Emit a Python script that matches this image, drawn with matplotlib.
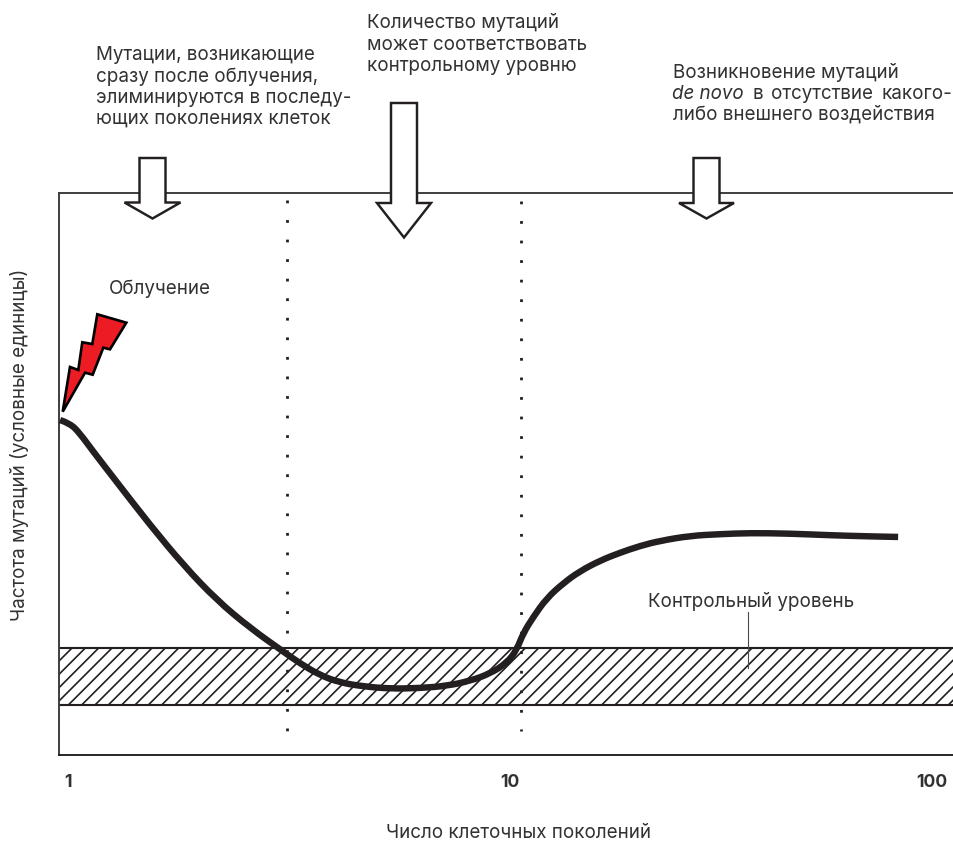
#!/usr/bin/env python3

"""
Mutation frequency vs number of cell generations after irradiation.
X axis is log10 of the generation number, y axis in arbitrary units.
"""

import matplotlib
matplotlib.use('Agg')
import matplotlib.pyplot as plt
from matplotlib.patches import Polygon, PathPatch
from matplotlib.path import Path
from matplotlib.transforms import Affine2D, ScaledTranslation

WIDTH = 953
HEIGHT = 841
DPI = 80  # hatch tile size follows dpi, 80 gives the right stripe spacing

# Data
log_generations = [-0.018, 0.005, 0.027, 0.057, 0.110, 0.186, 0.261, 0.336, 0.412, 0.487,
                   0.525, 0.570, 0.615, 0.668, 0.729, 0.796, 0.857, 0.910, 0.955, 0.993,
                   1.015, 1.030, 1.053, 1.083, 1.121, 1.158, 1.204, 1.249, 1.294, 1.339,
                   1.407, 1.475, 1.543, 1.633, 1.724, 1.814, 1.878]
mutation_freq = [59.6, 59.0, 57.2, 54.0, 48.6, 40.9, 33.8, 27.6, 22.6, 18.4,
                 16.3, 14.2, 12.9, 12.2, 11.8, 11.9, 12.3, 13.2, 14.5, 16.4,
                 18.7, 21.7, 24.6, 27.9, 30.6, 32.7, 34.6, 36.0, 37.2, 38.1,
                 39.0, 39.3, 39.5, 39.4, 39.1, 38.9, 38.8]
control_low = 8.9
control_high = 19.0
phase_bounds = [0.495, 1.024]
tick_positions = [0, 1, 2]
tick_labels = ['1', '10', '100']

INK = '#231f20'
TEXT = '#333132'
FS = 16.9

plt.rcParams['font.family'] = ['Inter', 'Liberation Sans', 'DejaVu Sans']
plt.rcParams['hatch.linewidth'] = 1.5

fig = plt.figure(figsize=(WIDTH / DPI, HEIGHT / DPI), dpi=DPI)
# Annotations outside the plot are placed in image pixels
px = Affine2D().scale(1 / WIDTH, -1 / HEIGHT).translate(0, 1) + fig.transFigure

ax_left, ax_right, ax_top, ax_bottom = 59, 952.5, 193, 755
ax = fig.add_axes([ax_left / WIDTH, 1 - ax_bottom / HEIGHT,
                   (ax_right - ax_left) / WIDTH, (ax_bottom - ax_top) / HEIGHT])
ax.set_xlim(-0.0204, 2.001)
ax.set_ylim(0, 100)

# Control level band
ax.axhspan(control_low, control_high, facecolor='white', edgecolor=INK, hatch='//',
           linewidth=0, zorder=1)
ax.axhline(control_low, color=INK, linewidth=1.9, zorder=2)
ax.axhline(control_high, color=INK, linewidth=1.9, zorder=2)

# Dotted phase boundaries
for bound, y0, y1 in zip(phase_bounds, [98.75, 98.6], [4.2, 4.2]):
    ax.plot([bound, bound], [y0, y1], color=INK, linewidth=2.5,
            linestyle=(0, (1, 6.04)), dash_capstyle='butt', zorder=2)

# Curve, smoothed with quadratic segments through the read points
points = list(zip(log_generations, mutation_freq))
verts = [points[0]]
codes = [Path.MOVETO]
for p, q in zip(points[1:-1], points[2:]):
    verts += [p, ((p[0] + q[0]) / 2, (p[1] + q[1]) / 2)]
    codes += [Path.CURVE3, Path.CURVE3]
verts.append(points[-1])
codes.append(Path.LINETO)
ax.add_patch(PathPatch(Path(verts, codes), facecolor='none', edgecolor=INK, linewidth=5.8,
                       capstyle='butt', joinstyle='round', zorder=3))

# Frame
for name in ['top', 'left', 'bottom']:
    ax.spines[name].set_color('#3a3839')
    ax.spines[name].set_linewidth(1.7)
ax.spines['bottom'].set_color(INK)
ax.spines['right'].set_color('#b5b5b5')
ax.spines['right'].set_linewidth(0.9)

ax.set_yticks([])
ax.set_xticks(tick_positions)
ax.set_xticklabels(tick_labels, fontsize=FS - 1, fontweight='bold', color=TEXT)
ax.tick_params(axis='x', length=0, pad=17)
last = ax.get_xticklabels()[-1]
last.set_ha('right')
last.set_transform(last.get_transform() + ScaledTranslation(-5 / DPI, 0, fig.dpi_scale_trans))

fig.text(518, 838, 'Число клеточных поколений', transform=px, ha='center', va='baseline',
         fontsize=FS, color=TEXT)
fig.text(25, 445, 'Частота мутаций (условные единицы)', transform=px, rotation=90,
         ha='center', va='baseline', rotation_mode='anchor', fontsize=FS, color=TEXT)


def down_arrow(cx, half_shaft, top, shoulder, half_head, tip):
    pts = [(cx - half_shaft, top), (cx + half_shaft, top), (cx + half_shaft, shoulder),
           (cx + half_head, shoulder), (cx, tip), (cx - half_head, shoulder),
           (cx - half_shaft, shoulder)]
    fig.add_artist(Polygon(pts, closed=True, transform=px, facecolor='white', edgecolor=INK,
                           linewidth=2.2, joinstyle='miter', zorder=5))


down_arrow(152.5, 13, 158, 202.5, 28, 218.5)
down_arrow(404, 13, 103, 203, 27, 237.5)
down_arrow(706.5, 13, 158, 203, 27.5, 218.5)

# Lightning bolt
bolt = [(62.7, 411.7), (70, 367), (78.3, 370), (82.3, 342.3), (92.3, 344), (97.3, 314.3),
        (126.3, 322.7), (110, 349.3), (103.3, 347.7), (92.7, 374.7), (85, 372.7)]
fig.add_artist(Polygon(bolt, closed=True, transform=px, facecolor='#ed1c24', edgecolor='black',
                       linewidth=2.4, joinstyle='miter', zorder=5))

# Leader line for the control level label
fig.add_artist(plt.Line2D([748, 748], [612, 668], transform=px, color='#4a4a4a',
                          linewidth=1.0, zorder=5))

# Annotations
notes = [
    (96, 60.5, 'Мутации, возникающие'),
    (96, 81.5, 'сразу после облучения,'),
    (96, 103, 'элиминируются в последу-'),
    (96, 124, 'ющих поколениях клеток'),
    (367, 28, 'Количество мутаций'),
    (367, 49.5, 'может соответствовать'),
    (367, 71, 'контрольному уровню'),
    (673, 78, 'Возникновение мутаций'),
    (752.5, 99, 'в'),
    (771.5, 99, 'отсутствие'),
    (881.5, 99, 'какого-'),
    (673, 120, 'либо внешнего воздействия'),
    (109, 294, 'Облучение'),
    (648, 607, 'Контрольный уровень'),
]
for x, y, s in notes:
    fig.text(x, y, s, transform=px, ha='left', va='baseline', fontsize=FS, color=TEXT, zorder=6)
fig.text(672.5, 99, 'de novo', transform=px, ha='left', va='baseline', fontsize=FS,
         fontstyle='italic', color=TEXT, zorder=6)

plt.savefig('out.png', dpi=DPI)
